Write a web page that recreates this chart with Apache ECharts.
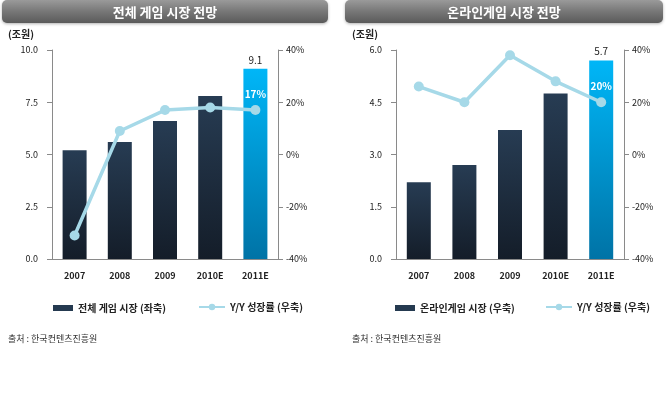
<!DOCTYPE html>
<html><head><meta charset="utf-8">
<script src="https://cdn.jsdelivr.net/npm/echarts@6/dist/echarts.min.js"></script>
<style>html,body{margin:0;padding:0;background:#fff;}#c{width:669px;height:400px;}</style>
</head><body><div id="c"></div>
<script>
const categories = ['2007','2008','2009','2010E','2011E'];
const totalMarket = [5.2, 5.6, 6.6, 7.8, 9.1];
const totalGrowth = [-31, 9, 17, 18, 17];
const onlineMarket = [2.2, 2.7, 3.7, 4.75, 5.7];
const onlineGrowth = [26, 20, 38, 28, 20];
const leftTicksA = {min: 0, max: 10, interval: 2.5};
const leftTicksB = {min: 0, max: 6, interval: 1.5};
const rightTicks = {min: -40, max: 40, interval: 20};
const titles = ['전체 게임 시장 전망', '온라인게임 시장 전망'];
const barNames = ['전체 게임 시장 (좌축)', '온라인게임 시장 (우축)'];
const lineName = 'Y/Y 성장률 (우축)';
const unitLabel = '(조원)';
const sourceText = '출처 : 한국컨텐츠진흥원';

const FONT = '"Noto Sans CJK KR", "Noto Sans", sans-serif';
const darkGrad = new echarts.graphic.LinearGradient(0,0,0,1,[{offset:0,color:'#273c53'},{offset:1,color:'#141d29'}]);
const blueGrad = new echarts.graphic.LinearGradient(0,0,0,1,[{offset:0,color:'#00b6f7'},{offset:1,color:'#0073a6'}]);
const lineColor = '#a6d9e8';

function barData(vals){
  return vals.map((v,i)=> i===vals.length-1 ? {value:v, itemStyle:{color:blueGrad}, label:{show:true, position:'top', color:'#222', fontSize:10, fontFamily:FONT, formatter:(p)=>p.value.toFixed(1), distance:4}} : {value:v});
}
function lineData(vals){
  return vals.map((v,i)=> i===vals.length-1 ? {value:v, label:{show:true, position:'top', distance:6, color:'#fff', fontWeight:'bold', fontSize:10, fontFamily:FONT, formatter:(p)=>p.value+'%'}} : {value:v});
}

const grids = [
  {left:52, right:391, top:50, bottom:141},
  {left:396, right:45, top:50, bottom:141}
];
const axisLine = {show:true, lineStyle:{color:'#8a8a8a', width:1}};
const axisLabel = {color:'#222', fontSize:9, fontFamily:FONT};

const xAxis = [0,1].map(g=>({type:'category', gridIndex:g, data:categories, axisLine:axisLine, axisTick:{show:false}, axisLabel:Object.assign({margin:12, fontWeight:'bold'}, axisLabel)}));
const yAxis = [];
[leftTicksA, leftTicksB].forEach((t,g)=>{
  yAxis.push({type:'value', gridIndex:g, position:'left', min:t.min, max:t.max, interval:t.interval, axisLine:axisLine, axisTick:{show:true, length:5, lineStyle:{color:'#8a8a8a'}}, splitLine:{show:false}, axisLabel:Object.assign({formatter:(v)=>v.toFixed(1), margin:14}, axisLabel)});
  yAxis.push({type:'value', gridIndex:g, position:'right', min:rightTicks.min, max:rightTicks.max, interval:rightTicks.interval, axisLine:axisLine, axisTick:{show:true, length:5, lineStyle:{color:'#8a8a8a'}}, splitLine:{show:false}, axisLabel:Object.assign({formatter:(v)=>v+'%', margin:8}, axisLabel)});
});

const series = [];
[[totalMarket,totalGrowth],[onlineMarket,onlineGrowth]].forEach((d,g)=>{
  series.push({type:'bar', name:barNames[g], xAxisIndex:g, yAxisIndex:g*2, data:barData(d[0]), barWidth:24, itemStyle:{color:darkGrad}});
  series.push({type:'line', name:lineName+(g?' ':''), xAxisIndex:g, yAxisIndex:g*2+1, data:lineData(d[1]), symbol:'circle', symbolSize:10, lineStyle:{color:lineColor, width:3.5}, itemStyle:{color:lineColor}, z:5});
});

const legendBase = {orient:'horizontal', itemGap:4, textStyle:{color:'#222', fontSize:10, fontWeight:'bold', fontFamily:FONT}, selectedMode:false};
const legend = [
  Object.assign({}, legendBase, {left:48, top:298, itemWidth:20, itemHeight:6, data:[{name:barNames[0], icon:'rect', itemStyle:{color:'#253a50'}}]}),
  Object.assign({}, legendBase, {left:193, top:297, itemWidth:26, itemHeight:8, data:[{name:lineName}]}),
  Object.assign({}, legendBase, {left:390, top:298, itemWidth:20, itemHeight:6, data:[{name:barNames[1], icon:'rect', itemStyle:{color:'#253a50'}}]}),
  Object.assign({}, legendBase, {left:540, top:297, itemWidth:26, itemHeight:8, data:[{name:lineName+' '}]})
];

const bannerGrad = () => new echarts.graphic.LinearGradient(0,0,0,1,[{offset:0,color:'#9a9a9a'},{offset:0.5,color:'#777'},{offset:1,color:'#5a5a5a'}]);
const graphic = [
  {type:'rect', left:2, top:0, shape:{width:326, height:23, r:5}, style:{fill:bannerGrad(), shadowBlur:3, shadowColor:'rgba(0,0,0,0.3)', shadowOffsetY:1}},
  {type:'rect', left:345, top:0, shape:{width:318, height:23, r:5}, style:{fill:bannerGrad(), shadowBlur:3, shadowColor:'rgba(0,0,0,0.3)', shadowOffsetY:1}},
  {type:'text', x:165, y:12, style:{text:titles[0], fill:'#fff', font:'bold 13px '+FONT, textAlign:'center', textVerticalAlign:'middle'}},
  {type:'text', x:504, y:12, style:{text:titles[1], fill:'#fff', font:'bold 13px '+FONT, textAlign:'center', textVerticalAlign:'middle'}},
  {type:'text', x:8, y:34, style:{text:unitLabel, fill:'#222', font:'bold 10px '+FONT, textVerticalAlign:'middle'}},
  {type:'text', x:352, y:34, style:{text:unitLabel, fill:'#222', font:'bold 10px '+FONT, textVerticalAlign:'middle'}},
  {type:'text', x:8, y:339, style:{text:sourceText, fill:'#333', font:'9px '+FONT, textVerticalAlign:'middle'}},
  {type:'text', x:352, y:339, style:{text:sourceText, fill:'#333', font:'9px '+FONT, textVerticalAlign:'middle'}}
];

const chart = echarts.init(document.getElementById('c'), null, {renderer:'canvas'});
chart.setOption({animation:false, backgroundColor:'#fff', grid:grids, xAxis:xAxis, yAxis:yAxis, series:series, legend:legend, graphic:graphic});
</script></body></html>
